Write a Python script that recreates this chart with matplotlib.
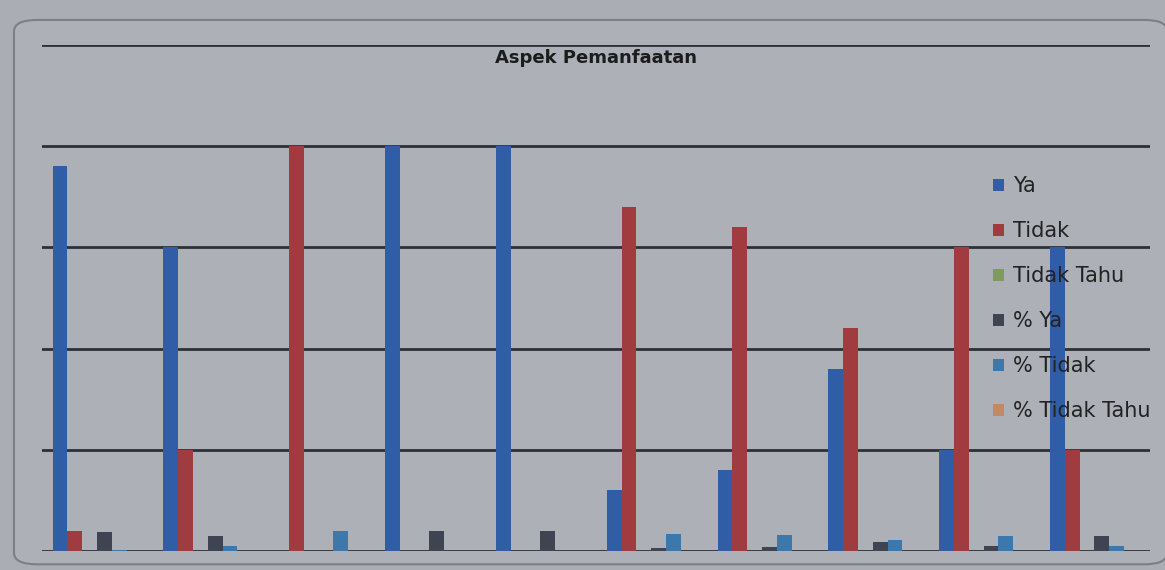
import numpy as np
import matplotlib.pyplot as plt
from matplotlib.patches import FancyBboxPatch

# data (20 respondents per item)
groups = list(range(1, 11))
ya = [19, 15, 0, 20, 20, 3, 4, 9, 5, 15]
tidak = [1, 5, 20, 0, 0, 17, 16, 11, 15, 5]
tidak_tahu = [0, 0, 0, 0, 0, 0, 0, 0, 0, 0]
pct_ya = [0.95, 0.75, 0.0, 1.0, 1.0, 0.15, 0.20, 0.45, 0.25, 0.75]
pct_tidak = [0.05, 0.25, 1.0, 0.0, 0.0, 0.85, 0.80, 0.55, 0.75, 0.25]
pct_tidak_tahu = [0, 0, 0, 0, 0, 0, 0, 0, 0, 0]

series = [ya, tidak, tidak_tahu, pct_ya, pct_tidak, pct_tidak_tahu]
names = ['Ya', 'Tidak', 'Tidak Tahu', '% Ya', '% Tidak', '% Tidak Tahu']
colors = ['#2f5ea6', '#a03c3f', '#7f9a5a', '#3f4452', '#3d78ad', '#c08a66']

bg = '#aaadb3'
fig = plt.figure(figsize=(11.65, 5.70), dpi=100)
fig.patch.set_facecolor(bg)

# chart frame (behind the axes)
frame = FancyBboxPatch((0.012, 0.01), 0.99, 0.955, boxstyle='round,pad=0,rounding_size=0.02',
                       transform=fig.transFigure, facecolor='#adb0b6', edgecolor='#7c7f85',
                       linewidth=1.5, zorder=-10)
fig.add_artist(frame)

ax = fig.add_axes([0.0357, 0.0333, 0.9513, 0.888])
ax.set_facecolor('none')
ax.set_zorder(5)

x = np.arange(len(groups))
w = 1 / 7.5
for i, (vals, nm, c) in enumerate(zip(series, names, colors)):
    ax.bar(x + (i - 2.5) * w, vals, width=w, color=c, label=nm, zorder=3)

ax.set_xlim(-0.5, len(groups) - 0.5)
ax.set_ylim(0, 25)
ax.set_yticks([0, 5, 10, 15, 20, 25])
ax.grid(axis='y', color='#2e3035', linewidth=2, zorder=1)
ax.set_axisbelow(True)
ax.tick_params(left=False, bottom=False, labelleft=False, labelbottom=False)
for s in ax.spines.values():
    s.set_visible(False)

ax.set_title('Aspek Pemanfaatan', fontsize=13, fontweight='bold', color='#1c1c1c', y=0.948)

leg = ax.legend(loc='upper left', bbox_to_anchor=(0.842, 0.777), frameon=False,
                fontsize=15, handlelength=0.5, handleheight=0.5, handletextpad=0.45,
                labelspacing=1.2, borderpad=0.4)
for t in leg.get_texts():
    t.set_color('#222222')

fig.savefig('out.png', dpi=100, facecolor=bg)
